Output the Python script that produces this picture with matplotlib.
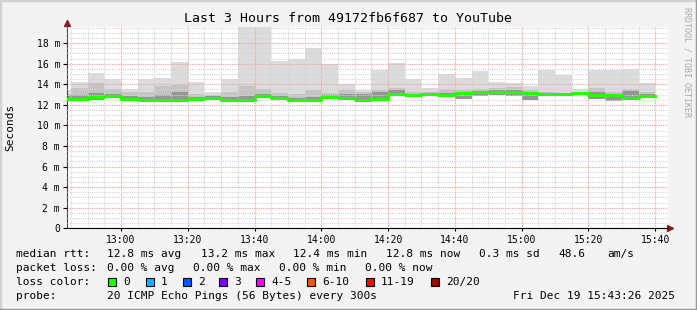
import numpy as np
import pandas as pd
import matplotlib
matplotlib.use("Agg")
import matplotlib.pyplot as plt
import matplotlib.dates as mdates
from matplotlib.patches import Rectangle
from matplotlib.lines import Line2D

W, H = 697, 310
MONO = "DejaVu Sans Mono"

# 5 minute steps, each value belongs to the interval ending at that time
step_end = pd.date_range("2025-12-19 12:45", "2025-12-19 15:40", freq="5min")
t_start = pd.Timestamp("2025-12-19 12:43:50")
t_stop = pd.Timestamp("2025-12-19 15:43:50")

# smoke (ms): max, upper quartile-ish, darker core top, minimum; median rtt
smoke_max = [13.45, 14.2, 15.1, 14.5, 13.55, 14.5, 14.6, 16.2, 14.2, 13.3,
             14.5, 21.0, 21.0, 16.3, 16.5, 17.5, 16.0, 14.0, 13.45, 15.4,
             16.05, 14.5, 13.6, 15.0, 14.6, 15.3, 14.25, 14.1, 13.8, 15.4,
             14.9, 13.55, 15.4, 15.4, 15.5, 14.1]
smoke_hi = [13.1, 13.6, 14.1, 13.5, 13.3, 13.3, 13.8, 13.9, 13.1, 13.0,
            13.3, 13.8, 13.5, 13.2, 13.1, 13.4, 13.2, 13.4, 13.3, 13.4,
            13.6, 13.3, 13.3, 13.5, 13.4, 13.5, 13.6, 13.7, 13.4, 13.3,
            13.2, 13.3, 13.6, 13.3, 13.5, 13.3]
smoke_dk = [12.9, 13.0, 13.2, 13.1, 12.9, 12.8, 13.0, 13.3, 12.8, 12.9,
            12.8, 12.9, 13.1, 12.9, 12.7, 12.8, 13.0, 13.1, 13.1, 13.3,
            13.4, 13.1, 13.2, 13.2, 13.2, 13.35, 13.4, 13.4, 13.3, 13.2,
            13.15, 13.25, 13.3, 13.1, 13.35, 13.1]
smoke_lo = [12.5, 12.5, 12.45, 12.7, 12.45, 12.4, 12.4, 12.4, 12.5, 12.5,
            12.4, 12.4, 12.7, 12.5, 12.4, 12.4, 12.6, 12.5, 12.4, 12.35,
            13.0, 12.9, 13.0, 12.9, 12.6, 12.9, 13.0, 12.9, 12.5, 12.9,
            13.0, 13.1, 12.6, 12.4, 12.6, 12.8]
median = [12.6, 12.6, 12.8, 12.9, 12.6, 12.5, 12.5, 12.5, 12.6, 12.7,
          12.5, 12.5, 12.9, 12.7, 12.5, 12.5, 12.8, 12.7, 12.5, 12.6,
          13.05, 13.0, 13.1, 13.0, 13.2, 13.3, 13.3, 13.3, 13.2, 13.05,
          13.05, 13.2, 12.95, 12.95, 12.7, 12.9]

y_ticks = [0, 2, 4, 6, 8, 10, 12, 14, 16, 18]

legend_rows = [
    [(16, "median rtt:"), (107, "12.8 ms avg"), (201, "13.2 ms max"),
     (293, "12.4 ms min"), (386, "12.8 ms now"), (479, "0.3 ms sd"),
     (558, "48.6"), (607, "am/s")],
    [(16, "packet loss:"), (107, "0.00 % avg"), (193, "0.00 % max"),
     (279, "0.00 % min"), (365, "0.00 % now")],
]
loss_labels = ["0", "1", "2", "3", "4-5", "6-10", "11-19", "20/20"]
loss_colors = ["#26ff00", "#00b8ff", "#0059ff", "#7e00ff", "#ff00ff",
               "#ff5500", "#ff0000", "#a10000"]
loss_box_x = [108, 146, 183, 219, 256, 307, 366, 431]

fig = plt.figure(figsize=(W / 100, H / 100), dpi=100, facecolor="#f3f3f3")
ax = fig.add_axes([67 / W, 1 - 228.3 / H, 601 / W, 201.6 / H])
ax.set_facecolor("white")

starts = step_end - pd.Timedelta(minutes=5)
starts = starts.where(starts > t_start, t_start)
xs = np.append(mdates.date2num(starts), mdates.date2num(step_end[-1]))

def ext(a):
    return np.append(a, a[-1])

ax.fill_between(xs, ext(smoke_lo), ext(smoke_max), step="post",
                color="#dcdcdc", lw=0, zorder=1)
ax.fill_between(xs, ext(smoke_lo), ext(smoke_hi), step="post",
                color="#c4c4c4", lw=0, zorder=1)
ax.fill_between(xs, ext(smoke_lo), ext(smoke_dk), step="post",
                color="#959595", lw=0, zorder=1)
ax.step(xs, ext(median), where="post", color="black", lw=1.0, zorder=3)
ax.step(xs, ext(median), where="post", color="#26ff00", lw=2.2, zorder=4)

ax.set_xlim(t_start, t_stop)
ax.set_ylim(0, 19.6)

ax.xaxis.set_major_locator(mdates.MinuteLocator(byminute=[0, 20, 40]))
ax.xaxis.set_minor_locator(mdates.MinuteLocator(byminute=range(0, 60, 5)))
ax.xaxis.set_major_formatter(mdates.DateFormatter("%H:%M"))
ax.set_yticks(y_ticks)
ax.set_yticks(np.arange(0, 19.6, 0.5), minor=True)
ax.set_yticklabels([f"{v} m" if v else "0" for v in y_ticks])

ax.set_axisbelow(False)
ax.grid(which="minor", color="#d4d4d4", lw=0.8, ls=(0, (1, 1)))
ax.grid(which="major", color="#f0a0a0", lw=0.8, ls=(0, (1, 1)))

ax.tick_params(which="both", length=0)
ax.tick_params(axis="x", which="major", length=2, direction="out", pad=3,
               labelsize=7, color="#000000")
ax.tick_params(axis="y", which="major", length=3, direction="out", pad=2,
               labelsize=7)
for lab in ax.get_xticklabels() + ax.get_yticklabels():
    lab.set_family(MONO)

for s in ["top", "right"]:
    ax.spines[s].set_visible(False)
ax.spines["left"].set_color("#444444")
ax.spines["bottom"].set_color("#000000")
ax.spines["left"].set_bounds(0, 20.0)
ax.plot([0], [1.02], marker="^", color="#8b1a1a", ms=4,
        transform=ax.transAxes, clip_on=False)
ax.plot([1.003], [0], marker=">", color="#8b1a1a", ms=4,
        transform=ax.transAxes, clip_on=False)

fig.text(348 / W, 1 - 19 / H, "Last 3 Hours from 49172fb6f687 to YouTube",
         family=MONO, fontsize=9.5, ha="center", va="center")
fig.text(10 / W, 1 - 127 / H, "Seconds", family=MONO, fontsize=8,
         rotation=90, ha="center", va="center")
fig.text(687 / W, 1 - 62 / H, "RRDTOOL / TOBI OETIKER", family=MONO,
         fontsize=6, rotation=-90, ha="center", va="center", color="#a8a8a8")

row_y = [254.3, 267.7, 282.3, 296]
for row, yy in zip(legend_rows, row_y):
    for xx, txt in row:
        fig.text(xx / W, 1 - yy / H, txt, family=MONO, fontsize=8,
                 ha="left", va="center")

fig.text(16 / W, 1 - row_y[2] / H, "loss color:", family=MONO, fontsize=8,
         ha="left", va="center")
for bx, col, lab in zip(loss_box_x, loss_colors, loss_labels):
    fig.add_artist(Rectangle((bx / W, 1 - 286.3 / H), 8 / W, 8 / H,
                             facecolor=col, edgecolor="black", lw=0.8,
                             transform=fig.transFigure))
    fig.text((bx + 15) / W, 1 - row_y[2] / H, lab, family=MONO, fontsize=8,
             ha="left", va="center")

fig.text(16 / W, 1 - row_y[3] / H, "probe:", family=MONO, fontsize=8,
         ha="left", va="center")
fig.text(107 / W, 1 - row_y[3] / H, "20 ICMP Echo Pings (56 Bytes) every 300s",
         family=MONO, fontsize=8, ha="left", va="center")
fig.text(513 / W, 1 - row_y[3] / H, "Fri Dec 19 15:43:26 2025",
         family=MONO, fontsize=8, ha="left", va="center")

# bevelled border
fig.add_artist(Line2D([0, 0, 1], [0, 1, 1], transform=fig.transFigure,
                      color="#d2d2d2", lw=2.5))
fig.add_artist(Line2D([0, 1, 1], [0, 0, 1], transform=fig.transFigure,
                      color="#9a9a9a", lw=2.5))

fig.savefig("out.png", dpi=100, facecolor=fig.get_facecolor())
